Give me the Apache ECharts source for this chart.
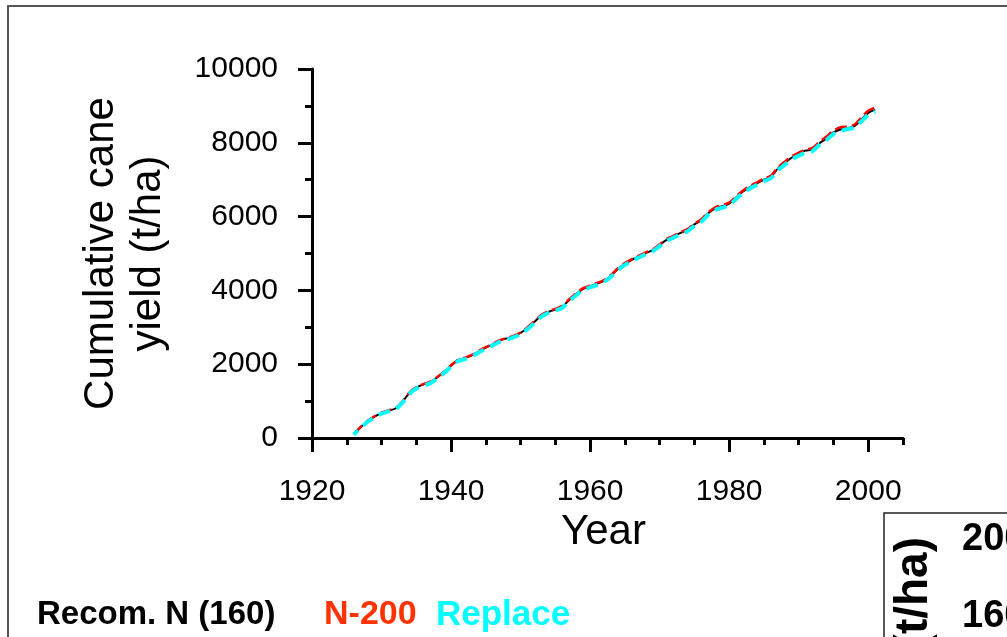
<!DOCTYPE html>
<html>
<head>
<meta charset="utf-8">
<script src="https://cdn.jsdelivr.net/npm/echarts@6/dist/echarts.min.js"></script>
<style>
html,body{margin:0;padding:0;background:#fff;}
#chart{width:1007px;height:637px;}
</style>
</head>
<body>
<div id="chart"></div>
<script>
const years = [1926,1927,1928,1929,1930,1931,1932,1933,1934,1935,
  1936,1937,1938,1939,1940,1941,1942,1943,1944,1945,
  1946,1947,1948,1949,1950,1951,1952,1953,1954,1955,
  1956,1957,1958,1959,1960,1961,1962,1963,1964,1965,
  1966,1967,1968,1969,1970,1971,1972,1973,1974,1975,
  1976,1977,1978,1979,1980,1981,1982,1983,1984,1985,
  1986,1987,1988,1989,1990,1991,1992,1993,1994,1995,
  1996,1997,1998,1999,2000,2001];
const recomN = [100,290,460,580,680,740,800,980,1220,1370,
  1450,1510,1640,1790,1960,2110,2170,2240,2350,2450,
  2540,2640,2700,2760,2850,2980,3150,3320,3420,3480,
  3560,3740,3900,4040,4110,4180,4260,4400,4580,4720,
  4830,4920,5010,5090,5230,5370,5460,5560,5640,5790,
  5900,6090,6220,6280,6350,6520,6680,6800,6900,7000,
  7080,7300,7460,7600,7700,7790,7820,7990,8120,8280,
  8360,8400,8450,8630,8810,8900];
const n200 = [100,300,470,590,690,750,810,990,1230,1380,
  1460,1520,1650,1800,1970,2120,2180,2250,2360,2460,
  2550,2650,2710,2770,2860,3000,3170,3340,3440,3500,
  3580,3760,3920,4060,4130,4200,4280,4420,4600,4740,
  4850,4940,5030,5110,5250,5390,5480,5580,5660,5810,
  5930,6120,6250,6310,6380,6550,6710,6830,6930,7030,
  7110,7330,7490,7630,7730,7820,7860,8030,8170,8330,
  8420,8440,8490,8680,8870,8960];
const replace = [90,270,440,560,660,720,780,950,1190,1340,
  1420,1480,1610,1760,1930,2080,2140,2210,2320,2420,
  2510,2610,2670,2730,2820,2950,3120,3290,3390,3450,
  3530,3710,3870,4010,4080,4150,4230,4370,4550,4690,
  4800,4890,4980,5060,5200,5340,5430,5520,5600,5750,
  5860,6050,6180,6240,6310,6480,6640,6760,6860,6960,
  7040,7250,7410,7550,7650,7740,7780,7950,8080,8240,
  8320,8370,8410,8580,8750,8850];
const xMajorTicks = [1920,1940,1960,1980,2000];
const xMinorTicks = [1920,1925,1930,1935,1940,1945,1950,1955,1960,1965,1970,1975,1980,1985,1990,1995,2000,2005];
const yMajorTicks = [0,2000,4000,6000,8000,10000];
const yMinorTicks = [0,1000,2000,3000,4000,5000,6000,7000,8000,9000,10000];
const seriesNames = ['Recom. N (160)','N-200','Replace'];
const insetLabels = ['2000','1600'];

const toPairs = vals => years.map((y,i)=>[y, vals[i]]);
const FONT = '"Liberation Sans", Arial, sans-serif';
const plain = v => String(v);
const chart = echarts.init(document.getElementById('chart'), null, {renderer:'canvas'});
const axisLineStyle = {color:'#000', width:3};
chart.setOption({
  animation:false,
  backgroundColor:'#fff',
  grid:{left:312, right:104, top:69, bottom:199, containLabel:false},
  xAxis:[{
    type:'value', min:1920, max:2005, position:'bottom',
    axisLine:{show:true, onZero:false, lineStyle:axisLineStyle},
    axisTick:{show:true, customValues:xMajorTicks, length:14, inside:false, lineStyle:{color:'#000', width:3}},
    axisLabel:{show:true, customValues:xMajorTicks, formatter:plain, margin:39, fontSize:30, color:'#000', fontFamily:FONT},
    splitLine:{show:false},
    name:'Year', nameLocation:'middle', nameGap:72,
    nameTextStyle:{fontSize:42, color:'#000', fontFamily:FONT, padding:[0,8,0,0]}
  },{
    type:'value', min:1920, max:2005, position:'bottom', offset:0,
    axisLine:{show:false},
    axisTick:{show:true, customValues:xMinorTicks, length:7, lineStyle:{color:'#000', width:3}},
    axisLabel:{show:false}, splitLine:{show:false}
  }],
  yAxis:[{
    type:'value', min:0, max:10000, position:'left',
    axisLine:{show:true, onZero:false, lineStyle:axisLineStyle},
    axisTick:{show:true, customValues:yMajorTicks, length:14, lineStyle:{color:'#000', width:3}},
    axisLabel:{show:true, customValues:yMajorTicks, formatter:plain, margin:34, fontSize:30, color:'#000', fontFamily:FONT},
    splitLine:{show:false},
    name:'Cumulative cane\nyield (t/ha)', nameLocation:'middle', nameGap:140, nameRotate:90,
    nameTextStyle:{fontSize:42, lineHeight:47, color:'#000', fontFamily:FONT, align:'center'}
  },{
    type:'value', min:0, max:10000, position:'left', offset:0,
    axisLine:{show:false},
    axisTick:{show:true, customValues:yMinorTicks, length:7, lineStyle:{color:'#000', width:3}},
    axisLabel:{show:false}, splitLine:{show:false}
  }],
  series:[{
    name:seriesNames[0], type:'line', data:toPairs(recomN), smooth:0.3, showSymbol:false,
    lineStyle:{color:'#000', width:2}, z:2
  },{
    name:seriesNames[1], type:'line', data:toPairs(n200), smooth:0.3, showSymbol:false,
    lineStyle:{color:'#ff0000', width:2.5, type:[12,5]}, z:3
  },{
    name:seriesNames[2], type:'line', data:toPairs(replace), smooth:0.3, showSymbol:false,
    lineStyle:{color:'#00ffff', width:4, type:[12,7], dashOffset:6}, z:4
  }],
  graphic:[
    {type:'rect', shape:{x:8,y:6,width:1100,height:700}, style:{fill:'none', stroke:'#555', lineWidth:2}, silent:true},
    {type:'rect', shape:{x:884,y:513,width:200,height:200}, style:{fill:'none', stroke:'#222', lineWidth:1.5}, silent:true},
    {type:'text', x:37, y:615, style:{text:seriesNames[0], fill:'#000', font:'bold 33px '+FONT, align:'left', verticalAlign:'middle'}},
    {type:'text', x:324, y:615, style:{text:seriesNames[1], fill:'#ff3300', font:'bold 34px '+FONT, align:'left', verticalAlign:'middle'}},
    {type:'text', x:436, y:615, style:{text:seriesNames[2], fill:'#00ffff', font:'bold 35px '+FONT, align:'left', verticalAlign:'middle'}},
    {type:'text', x:914, y:537, rotation:Math.PI/2, style:{text:'(t/ha)', fill:'#000', font:'bold 46px '+FONT, align:'right', verticalAlign:'middle'}},
    {type:'text', x:962, y:540, style:{text:insetLabels[0], fill:'#000', font:'bold 38px '+FONT, align:'left', verticalAlign:'middle'}},
    {type:'text', x:962, y:617, style:{text:insetLabels[1], fill:'#000', font:'bold 38px '+FONT, align:'left', verticalAlign:'middle'}}
  ]
});
</script>
</body>
</html>
